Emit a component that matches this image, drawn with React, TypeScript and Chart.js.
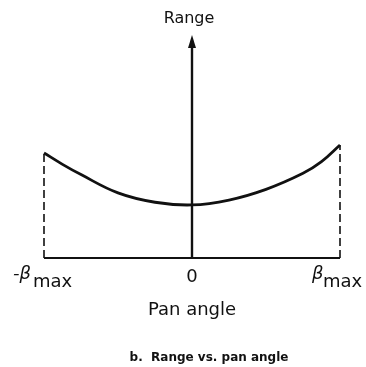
import React, { useEffect, useRef } from "react";
import { Chart, registerables } from "chart.js";

Chart.register(...registerables);

// Pan angle as a fraction of beta_max (-1 .. 1)
const panAngle = [-1, -0.875, -0.75, -0.5, -0.25, 0, 0.25, 0.5, 0.75, 0.875, 1];
// Range (arbitrary units, axis top = 10)
const range = [4.71, 4.2, 3.74, 2.92, 2.5, 2.38, 2.6, 3.08, 3.8, 4.32, 5.07];
const rangeAxisMax = 10;
const yAxisTitle = "Range";
const xAxisTitle = "Pan angle";
const caption = "b.  Range vs. pan angle";
const tickZero = "0";

const FONT = "'DejaVu Sans', sans-serif";
const INK = "#111";

const annotate = {
  id: "annotate",
  afterDatasetsDraw(chart: any) {
    const { ctx, scales } = chart;
    const xs = scales.x;
    const ys = scales.y;
    const x0 = xs.getPixelForValue(0);
    const xL = xs.getPixelForValue(-1);
    const xR = xs.getPixelForValue(1);
    const yTop = ys.getPixelForValue(rangeAxisMax);
    const yBase = ys.getPixelForValue(0);
    ctx.save();
    // arrow head
    ctx.fillStyle = INK;
    ctx.beginPath();
    ctx.moveTo(x0, yTop);
    ctx.lineTo(x0 - 4, yTop + 13);
    ctx.lineTo(x0 + 4, yTop + 13);
    ctx.closePath();
    ctx.fill();

    ctx.fillStyle = INK;
    ctx.textBaseline = "alphabetic";
    // y axis title
    ctx.font = `16px ${FONT}`;
    ctx.textAlign = "center";
    ctx.fillText(yAxisTitle, x0 - 3, yTop - 12);

    // tick labels
    ctx.font = `18px ${FONT}`;
    ctx.fillText(tickZero, x0, yBase + 24);

    // -beta max
    ctx.textAlign = "left";
    ctx.font = `italic 18px ${FONT}`;
    ctx.fillText("-\u03B2", xL - 31, yBase + 21);
    ctx.font = `18px ${FONT}`;
    ctx.fillText("max", xL - 11, yBase + 29);

    // beta max
    ctx.font = `italic 18px ${FONT}`;
    ctx.fillText("\u03B2", xR - 28, yBase + 21);
    ctx.font = `18px ${FONT}`;
    ctx.fillText("max", xR - 17, yBase + 29);

    // x axis title
    ctx.textAlign = "center";
    ctx.font = `18px ${FONT}`;
    ctx.fillText(xAxisTitle, x0, yBase + 57);

    // caption
    ctx.font = `bold 12px ${FONT}`;
    ctx.fillText(caption, x0 + 17, yBase + 103);
    ctx.restore();
  },
};

export default function App() {
  const ref = useRef<HTMLCanvasElement>(null);
  useEffect(() => {
    if (!ref.current) return;
    const n = panAngle.length;
    const curve = panAngle.map((x, i) => ({ x, y: range[i] }));
    const chart = new Chart(ref.current, {
      type: "line",
      data: {
        datasets: [
          {
            data: curve,
            borderColor: INK,
            borderWidth: 2.8,
            pointRadius: 0,
            tension: 0.4,
            clip: false,
          } as any,
          {
            data: [{ x: panAngle[0], y: 0 }, { x: panAngle[n - 1], y: 0 }],
            borderColor: INK,
            borderWidth: 2,
            pointRadius: 0,
            clip: false,
          },
          {
            data: [{ x: 0, y: 0 }, { x: 0, y: rangeAxisMax * 0.95 }],
            borderColor: INK,
            borderWidth: 2.4,
            pointRadius: 0,
            clip: false,
          },
          {
            data: [{ x: panAngle[0], y: 0 }, { x: panAngle[0], y: range[0] }],
            borderColor: INK,
            borderWidth: 1.6,
            borderDash: [8, 4],
            pointRadius: 0,
            clip: false,
          },
          {
            data: [{ x: panAngle[n - 1], y: 0 }, { x: panAngle[n - 1], y: range[n - 1] }],
            borderColor: INK,
            borderWidth: 1.6,
            borderDash: [8, 4],
            pointRadius: 0,
            clip: false,
          },
        ],
      },
      options: {
        animation: false,
        responsive: false,
        devicePixelRatio: 1,
        layout: { padding: { left: 44, right: 26, top: 35, bottom: 109 } },
        plugins: { legend: { display: false }, tooltip: { enabled: false }, title: { display: false } },
        scales: {
          x: { type: "linear", min: -1, max: 1, display: false },
          y: { type: "linear", min: 0, max: rangeAxisMax, display: false },
        },
      },
      plugins: [annotate],
    });
    return () => chart.destroy();
  }, []);
  return (
    <div style={{ position: "absolute", left: 0, top: 0, width: 366, height: 367, background: "#fff" }}>
      <canvas ref={ref} width={366} height={367} style={{ display: "block" }} />
    </div>
  );
}
